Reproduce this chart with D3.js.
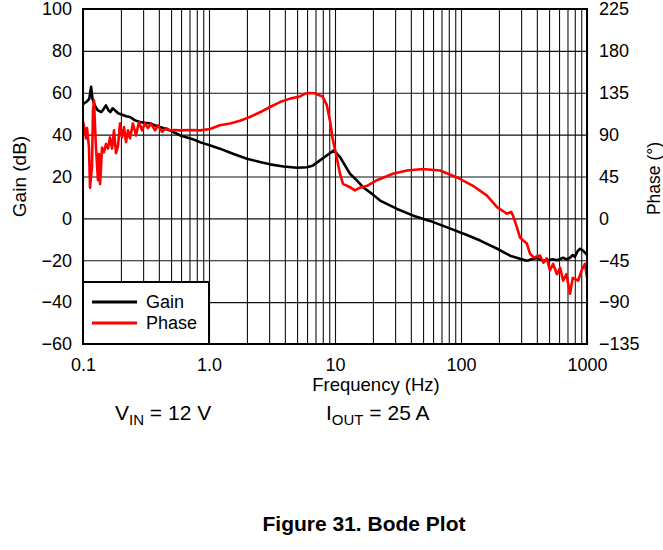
<!DOCTYPE html>
<html>
<head>
<meta charset="utf-8">
<script src="https://cdn.jsdelivr.net/npm/d3@7"></script>
<style>
  body { margin: 0; background: #fff; }
  text { font-family: "Liberation Sans", Arial, sans-serif; fill: #000; }
</style>
</head>
<body>
<div id="chartDiv"></div>
<script>
// tick values
const freqTicks = [0.1, 1, 10, 100, 1000];
const freqTickLabels = ["0.1", "1.0", "10", "100", "1000"];
const gainTicks = [-60, -40, -20, 0, 20, 40, 60, 80, 100];
const phaseTicks = [-135, -90, -45, 0, 45, 90, 135, 180, 225];

// gain curve (Hz, dB)
const gainFreq = [0.1, 0.106, 0.112, 0.116, 0.119, 0.124, 0.131, 0.14, 0.145, 0.152,
    0.16, 0.165, 0.172, 0.18, 0.19, 0.205, 0.22, 0.236, 0.259, 0.284,
    0.31, 0.34, 0.37, 0.408, 0.45, 0.49, 0.54, 0.59, 0.65, 0.71,
    0.78, 0.85, 0.92, 1.0, 1.22, 1.55, 2.0, 2.54, 3.05, 3.9,
    5.0, 6.0, 6.7, 7.6, 8.6, 9.8, 10.96, 12.0, 13.15, 14.96,
    16.7, 19.7, 22.8, 31.1, 41.8, 56.7, 77.6, 114, 142, 194,
    245, 294, 333, 370, 400, 440, 480, 530, 578, 645,
    690, 733, 770, 800, 840, 880, 930, 964, 1000];
const gainDb = [54.5, 55.6, 57, 62.8, 57, 54, 51.6, 50.8, 52, 54,
    51.5, 50.8, 52.6, 51.5, 50.2, 49.5, 48.8, 48.4, 46.8, 46,
    45.6, 45.4, 44.5, 43.6, 42.8, 42, 40.8, 39.6, 38.9, 38.2,
    37.3, 36.4, 35.7, 35, 33.3, 30.9, 28.5, 26.9, 25.8, 24.8,
    24.2, 24.4, 25.3, 27.7, 30, 32.5, 29.3, 25.3, 21.3, 18,
    14.9, 11.7, 8.5, 4.5, 1.3, -1.2, -4.3, -8.2, -10.6, -14.5,
    -17.8, -19.3, -20.2, -19.4, -18.9, -20, -20.2, -19.5, -20, -18.8,
    -19.6, -18.8, -17.5, -18.4, -15.8, -14.5, -15.4, -16.4, -17.5];

// phase curve (Hz, degrees)
const phaseFreq = [0.1, 0.1037, 0.1056, 0.1076, 0.1116, 0.1137, 0.1157, 0.1179, 0.120, 0.1223,
    0.1245, 0.1268, 0.1315, 0.134, 0.1365, 0.139, 0.1415, 0.1467, 0.1522, 0.158,
    0.1638, 0.170, 0.1762, 0.1828, 0.1896, 0.1966, 0.204, 0.2116, 0.2195, 0.2277,
    0.236, 0.249, 0.2633, 0.278, 0.294, 0.310, 0.328, 0.346, 0.373, 0.394,
    0.424, 0.457, 0.49, 0.537, 0.589, 0.706, 0.848, 1.02, 1.22, 1.47,
    1.76, 2.11, 2.54, 3.05, 3.66, 4.4, 5.27, 5.78, 6.3, 6.9,
    7.6, 7.98, 8.6, 9.12, 9.6, 10.3, 10.96, 11.57, 13.15, 14.4,
    15.8, 18.0, 21.5, 28.8, 37.3, 49.9, 68.1, 93, 124.5, 160.8,
    193, 231.7, 250, 258.8, 278, 294, 333, 353, 377, 424,
    451, 480, 508, 538, 578, 611, 647, 687, 733, 771,
    849, 906, 964, 1000];
const phaseDeg = [103.5, 94.6, 86, 97, 76, 33, 45, 55, 116, 127,
    100, 76, 41, 69, 37, 55, 76, 71, 80, 75,
    87, 75, 94.6, 70, 78, 102, 87, 98, 82, 94.6,
    86, 102, 89, 103.5, 94.6, 102, 97, 102, 94.6, 100,
    93, 97, 94.6, 95, 94.6, 95, 94.6, 96, 100, 102,
    105, 109, 114, 119.7, 125, 128.7, 131, 134, 134.8, 134.5,
    132, 131, 122, 105, 85, 66, 48, 37, 33.5, 30,
    33, 35, 41, 48, 51.5, 53, 51.5, 44, 35, 24.5,
    12, 5, 7, 3, -9.6, -20.7, -27, -38, -42, -40,
    -47.7, -43, -56, -49, -60, -53, -67, -60, -81, -64,
    -67, -56, -49, -64];

const width = 663, height = 550;
const margin = {top: 9, right: 76, bottom: 206, left: 83};
const plotW = width - margin.left - margin.right;
const plotH = height - margin.top - margin.bottom;

const minus = s => String(s).replace("-", "\u2212");

let svg = d3.select("#chartDiv").append("svg")
    .attr("width", width)
    .attr("height", height);

let x = d3.scaleLog().domain([0.1, 1000]).range([margin.left, margin.left + plotW]);
let yG = d3.scaleLinear().domain([-60, 100]).range([margin.top + plotH, margin.top]);
let yP = d3.scaleLinear().domain([-135, 225]).range([margin.top + plotH, margin.top]);

// grid: every 1..9 per decade
const minorFreqs = [];
d3.range(-1, 3).forEach(e => {
    for (let m = 1; m <= 9; m++) minorFreqs.push(m * Math.pow(10, e));
});
minorFreqs.push(1000);

svg.append('g')
    .attr('class', 'grid')
    .attr('transform', `translate(0, ${margin.top + plotH})`)
    .call(d3.axisBottom(x).tickValues(minorFreqs).tickSize(-plotH).tickFormat(''))
    .call(g => g.select('.domain').remove())
    .selectAll('line').attr('stroke', '#111').attr('stroke-width', 1.1);

svg.append('g')
    .attr('class', 'grid')
    .attr('transform', `translate(${margin.left}, 0)`)
    .call(d3.axisLeft(yG).tickValues(gainTicks).tickSize(-plotW).tickFormat(''))
    .call(g => g.select('.domain').remove())
    .selectAll('line').attr('stroke', '#111').attr('stroke-width', 1.1);

// tick labels
svg.append('g')
    .attr('transform', `translate(${margin.left}, 0)`)
    .call(d3.axisLeft(yG).tickValues(gainTicks).tickSize(0).tickPadding(11).tickFormat(minus))
    .call(g => g.select('.domain').remove())
    .selectAll('text').style('font-size', '18px').attr('font-family', null);

svg.append('g')
    .attr('transform', `translate(${margin.left + plotW}, 0)`)
    .call(d3.axisRight(yP).tickValues(phaseTicks).tickSize(0).tickPadding(12).tickFormat(minus))
    .call(g => g.select('.domain').remove())
    .selectAll('text').style('font-size', '18px').attr('font-family', null);

svg.append('g')
    .attr('transform', `translate(0, ${margin.top + plotH})`)
    .call(d3.axisBottom(x).tickValues(freqTicks).tickSize(0).tickPadding(14)
        .tickFormat((d, i) => freqTickLabels[i]))
    .call(g => g.select('.domain').remove())
    .selectAll('text').style('font-size', '18px').attr('font-family', null);

// curves
let gainData = d3.zip(gainFreq, gainDb);
let phaseData = d3.zip(phaseFreq, phaseDeg);

svg.append('path')
    .datum(gainData)
    .attr('fill', 'none')
    .attr('stroke', '#000')
    .attr('stroke-width', 2.6)
    .attr('stroke-linejoin', 'round')
    .attr('d', d3.line().x(d => x(d[0])).y(d => yG(d[1])));

svg.append('path')
    .datum(phaseData)
    .attr('fill', 'none')
    .attr('stroke', '#ff0000')
    .attr('stroke-width', 2.6)
    .attr('stroke-linejoin', 'round')
    .attr('d', d3.line().x(d => x(d[0])).y(d => yP(d[1])));

// frame
svg.append('rect')
    .attr('x', margin.left)
    .attr('y', margin.top)
    .attr('width', plotW)
    .attr('height', plotH)
    .attr('fill', 'none')
    .attr('stroke', '#000')
    .attr('stroke-width', 2);

// legend
let legend = svg.append('g').attr('transform', `translate(${margin.left}, ${margin.top + plotH - 62})`);
legend.append('rect')
    .attr('width', 126).attr('height', 62)
    .attr('fill', '#fff').attr('stroke', '#000').attr('stroke-width', 2);
[['Gain', '#000'], ['Phase', '#ff0000']].forEach((d, i) => {
    legend.append('line')
        .attr('x1', 9).attr('x2', 54)
        .attr('y1', 20 + i * 21).attr('y2', 20 + i * 21)
        .attr('stroke', d[1]).attr('stroke-width', 3);
    legend.append('text')
        .attr('x', 63).attr('y', 26 + i * 21)
        .style('font-size', '18px')
        .text(d[0]);
});

// axis titles
svg.append('text')
    .attr('transform', `translate(26, ${margin.top + plotH / 2}) rotate(-90)`)
    .style('text-anchor', 'middle')
    .style('font-size', '19px')
    .text('Gain (dB)');

svg.append('text')
    .attr('transform', `translate(660, ${margin.top + plotH / 2 + 2}) rotate(-90)`)
    .style('text-anchor', 'middle')
    .style('font-size', '17.5px')
    .text('Phase (°)');

svg.append('text')
    .attr('x', 376).attr('y', 391)
    .style('text-anchor', 'middle')
    .style('font-size', '18.5px')
    .text('Frequency (Hz)');

// conditions
let vin = svg.append('text').attr('x', 115).attr('y', 420).style('font-size', '21px');
vin.append('tspan').text('V');
vin.append('tspan').attr('dy', 5).style('font-size', '15px').text('IN');
vin.append('tspan').attr('dy', -5).text(' = 12 V');

let iout = svg.append('text').attr('x', 326).attr('y', 420).style('font-size', '21px');
iout.append('tspan').text('I');
iout.append('tspan').attr('dy', 5).style('font-size', '15px').text('OUT');
iout.append('tspan').attr('dy', -5).text(' = 25 A');

svg.append('text')
    .attr('x', 364).attr('y', 531)
    .style('text-anchor', 'middle')
    .style('font-size', '21px')
    .style('font-weight', 'bold')
    .text('Figure 31. Bode Plot');
</script>
</body>
</html>
